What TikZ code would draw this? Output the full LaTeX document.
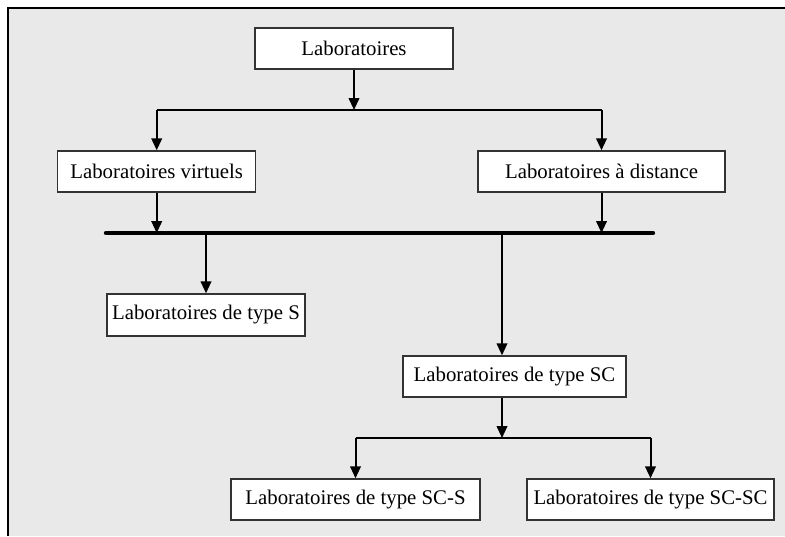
\documentclass[tikz,border=0pt]{standalone}
\usepackage{fontspec}
\setmainfont{Liberation Serif}
\usepackage{tikz}
\usetikzlibrary{arrows.meta}
\definecolor{fond}{HTML}{E9E9E9}
\tikzset{
  boite/.style={draw=black!80, line width=0.7pt, fill=white, minimum height=20.5pt, inner sep=0pt,
    font=\fontsize{10.4}{12}\selectfont},
  fleche/.style={line width=1pt, -{Triangle[length=6pt,width=5.3pt]}},
  trait/.style={line width=1pt},
  bus/.style={line width=2.2pt, line cap=round}
}
\begin{document}
\begin{tikzpicture}[x=0.5pt, y=-0.5pt]
    % Cadre et fond
    \useasboundingbox (0,0) rectangle (785,536);
    \fill[fond] (8,8) rectangle (785,536);
    \draw[line width=1pt] (8,536) -- (8,8) -- (785,8);

    % Boites
    \node[boite, minimum width=99pt] (labo) at (354,48.5) {Laboratoires};
    \node[boite, minimum width=99pt] (virt) at (156.7,171.5) {Laboratoires virtuels};
    \node[boite, minimum width=123.5pt] (dist) at (601.5,171.5) {Laboratoires à distance};
    \node[boite, minimum width=99pt, minimum height=21pt] (typeS) at (206,315) {Laboratoires de type S};
    \node[boite, minimum width=111.5pt] (typeSC) at (514.5,376.5) {Laboratoires de type SC};
    \node[boite, minimum width=124.5pt] (scs) at (355.5,499.5) {Laboratoires de type SC-S};
    \node[boite, minimum width=123.5pt] (scsc) at (650.5,499.5) {Laboratoires de type SC-SC};

    % Points de branchement
    \coordinate (embr1) at (354,110);
    \coordinate (busG) at (106,233);
    \coordinate (busD) at (653,233);
    \coordinate (busSC) at (502,233);
    \coordinate (embr2) at (502,438);

    % Premier niveau
    \draw[fleche] (labo.south) -- (embr1);
    \draw[trait] (virt.north |- embr1) -- (dist.north |- embr1);
    \draw[fleche] (virt.north |- embr1) -- (virt.north);
    \draw[fleche] (dist.north |- embr1) -- (dist.north);

    % Barre commune
    \draw[bus] (busG) -- (busD);
    \draw[fleche] (virt.south) -- (virt.south |- busG);
    \draw[fleche] (dist.south) -- (dist.south |- busG);
    \draw[fleche] (typeS.north |- busG) -- (typeS.north);
    \draw[fleche] (busSC) -- (busSC |- typeSC.north);

    % Type SC
    \draw[fleche] (busSC |- typeSC.south) -- (embr2);
    \draw[trait] (scs.north |- embr2) -- (scsc.north |- embr2);
    \draw[fleche] (scs.north |- embr2) -- (scs.north);
    \draw[fleche] (scsc.north |- embr2) -- (scsc.north);
\end{tikzpicture}
\end{document}
